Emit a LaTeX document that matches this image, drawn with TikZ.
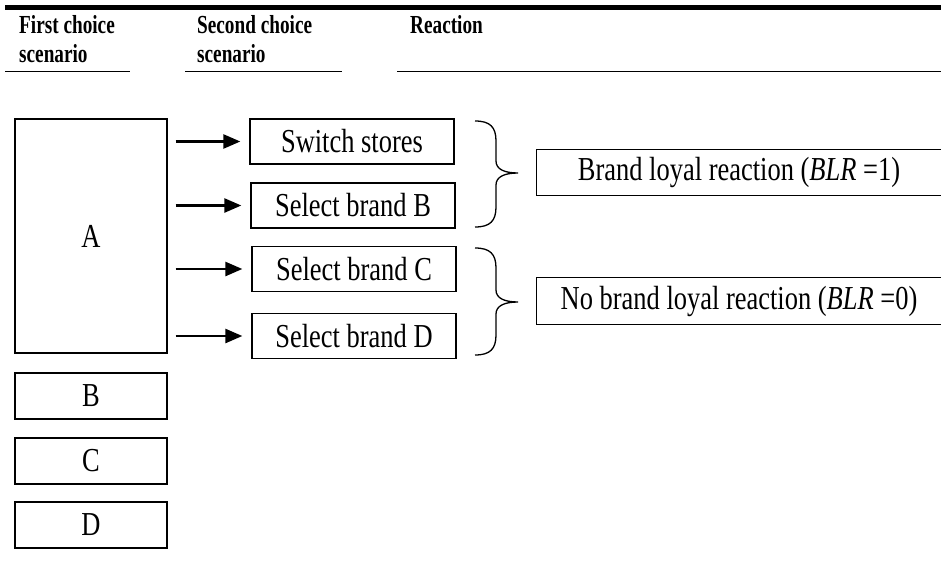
\documentclass[tikz,border=0pt]{standalone}
\usepackage{fontspec}
\setmainfont{Liberation Serif}[FakeStretch=0.79]
\newfontfamily\titrefont{Liberation Serif}[FakeStretch=0.74]
\usepackage{tikz}
\usetikzlibrary{arrows.meta}
\newcommand{\corps}{\fontsize{33.5}{40}\selectfont}
\newcommand{\entete}{\titrefont\fontsize{26}{29}\selectfont\bfseries}
\tikzstyle{titre}=[anchor=north west,inner sep=0pt,align=left,font=\entete,text=black]
\tikzstyle{boite}=[rectangle,draw,line width=1.3pt,inner sep=0pt,
font=\corps,text=black]
\tikzstyle{boite1}=[boite,minimum width=152pt,minimum height=46pt]
\tikzstyle{boite2}=[boite,minimum width=204pt,minimum height=45pt]
\tikzstyle{reac}=[rectangle,inner sep=0pt,minimum width=404pt,minimum height=46pt,
font=\corps,text=black]
\tikzstyle{fleche}=[line width=2.5pt,-{Triangle[length=17pt,width=14pt]},
shorten <=8pt,shorten >=9pt]
\tikzstyle{accolade}=[line width=1.3pt]

\begin{document}
\begin{tikzpicture}[x=1pt,y=-1pt]
      \useasboundingbox (0,0) rectangle (941,583);
      \draw[line width=4.5pt] (5,7.5) -- (941,7.5);
      \node[titre] (P) at (19,15.5) {First choice\\scenario};
      \node[titre] (S) at (197,15.5) {Second choice\\scenario};
      \node[titre] (R) at (410,15.5) {Reaction};
      \draw[line width=1.8pt] (5,71.5) -- (130,71.5);
      \draw[line width=1.8pt] (185,71.5) -- (342,71.5);
      \draw[line width=1.8pt] (397,71.5) -- (941,71.5);

      \node[boite1,minimum height=234pt] (A) at (91,236) {A};
      \node[boite1] (B) at (91,396) {B};
      \node[boite1] (C) at (91,461) {C};
      \node[boite1] (D) at (91,525) {D};

      \node[boite2] (SS) at (352,141.5) {Switch stores};
      \node[boite2] (SB) at (353,205.5) {Select brand B};
      \node[boite2] (SC) at (354,269) {Select brand C};
      \node[boite2] (SD) at (354,336) {Select brand D};
	
      \draw[fleche] (A.east |- SS) -- (SS);
      \draw[fleche] (A.east |- SB) -- (SB);
      \draw[fleche] (A.east |- SC) -- (SC);
      \draw[fleche] (A.east |- SD) -- (SD);

      \draw[accolade] (475,121) .. controls (490,121) and (496,127) .. (496,141) -- (496,161)
        .. controls (496,169) and (504,173) .. (518,173) .. controls (504,173) and (496,177) .. (496,185)
        -- (496,207) .. controls (496,221) and (490,227) .. (475,227);
      \draw[accolade] (475,248) .. controls (490,248) and (496,254) .. (496,268) -- (496,290)
        .. controls (496,298) and (504,302) .. (518,302) .. controls (504,302) and (496,306) .. (496,314)
        -- (496,335) .. controls (496,349) and (490,355) .. (475,355);

      \node[reac] (R1) at (739,172.5) {Brand loyal reaction (\textit{BLR} =1)};
      \node[reac] (R0) at (739,301) {No brand loyal reaction (\textit{BLR} =0)};
      \draw[line width=1.3pt] (R1.north east) -- (R1.north west) -- (R1.south west) -- (R1.south east);
      \draw[line width=1.3pt] (R0.north east) -- (R0.north west) -- (R0.south west) -- (R0.south east);
        \end{tikzpicture}
\end{document}
